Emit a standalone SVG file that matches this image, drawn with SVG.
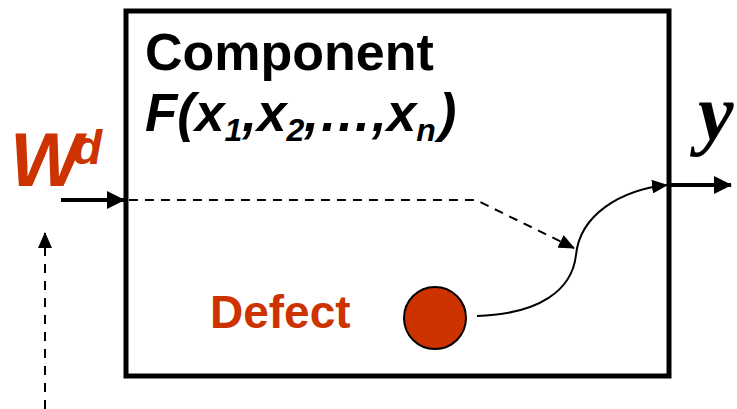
<svg xmlns="http://www.w3.org/2000/svg" width="737" height="409" viewBox="0 0 737 409">
<style>
.t{font-family:"Liberation Sans",Arial,sans-serif;font-weight:bold}
.red{fill:#CC3300}
.ln{fill:none;stroke:#000}
</style>
<defs>
<marker id="ahb" markerWidth="18" markerHeight="18" refX="17" refY="9" orient="auto" markerUnits="userSpaceOnUse" viewBox="0 0 18 18"><path d="M0,0 L18,9 L0,18 z" fill="#000"/></marker>
<marker id="ahm" markerWidth="16" markerHeight="14" refX="15" refY="7" orient="auto" markerUnits="userSpaceOnUse" viewBox="0 0 16 14"><path d="M0,0 L16,7 L0,14 z" fill="#000"/></marker>
</defs>
<g id="component">
<rect x="126" y="11" width="543" height="365" fill="#fff" stroke="#000" stroke-width="5"/>
<text class="t" x="145" y="70" font-size="52">Component</text>
<text class="t" x="145" y="131" font-size="53" font-style="italic">F(x<tspan font-size="32" dy="10">1</tspan><tspan dy="-10">,x</tspan><tspan font-size="32" dy="10">2</tspan><tspan dy="-10">,…,x</tspan><tspan font-size="32" dy="10">n</tspan><tspan dy="-10" dx="3">)</tspan></text>
</g>
<g id="defect">
<circle cx="435" cy="318" r="31" fill="#CC3300" stroke="#000" stroke-width="2"/>
<text class="t red" x="210" y="328" font-size="46">Defect</text>
</g>
<g id="wd">
<text class="t red" x="10" y="186" font-size="76" font-style="italic" letter-spacing="-9">W<tspan font-size="48" dy="-22" letter-spacing="0">d</tspan></text>
</g>
<g id="output">
<text x="698" y="140" font-family="'Liberation Serif',serif" font-weight="bold" font-style="italic" font-size="80">y</text>
</g>
<g id="connectors">
<line class="ln" x1="61" y1="200" x2="124" y2="200" stroke-width="4" marker-end="url(#ahb)"/>
<line class="ln" x1="669" y1="185" x2="731" y2="185" stroke-width="4" marker-end="url(#ahb)"/>
<path class="ln" d="M129,200 L476,200 L574,248" stroke-width="2" stroke-dasharray="9,7" marker-end="url(#ahm)"/>
<path class="ln" d="M477,316 C540,314 572,290 576,255 C580,215 620,190 667,185" stroke-width="2" marker-end="url(#ahm)"/>
<line class="ln" x1="45" y1="409" x2="45" y2="233" stroke-width="2" stroke-dasharray="9,8" marker-end="url(#ahm)"/>
</g>
</svg>
